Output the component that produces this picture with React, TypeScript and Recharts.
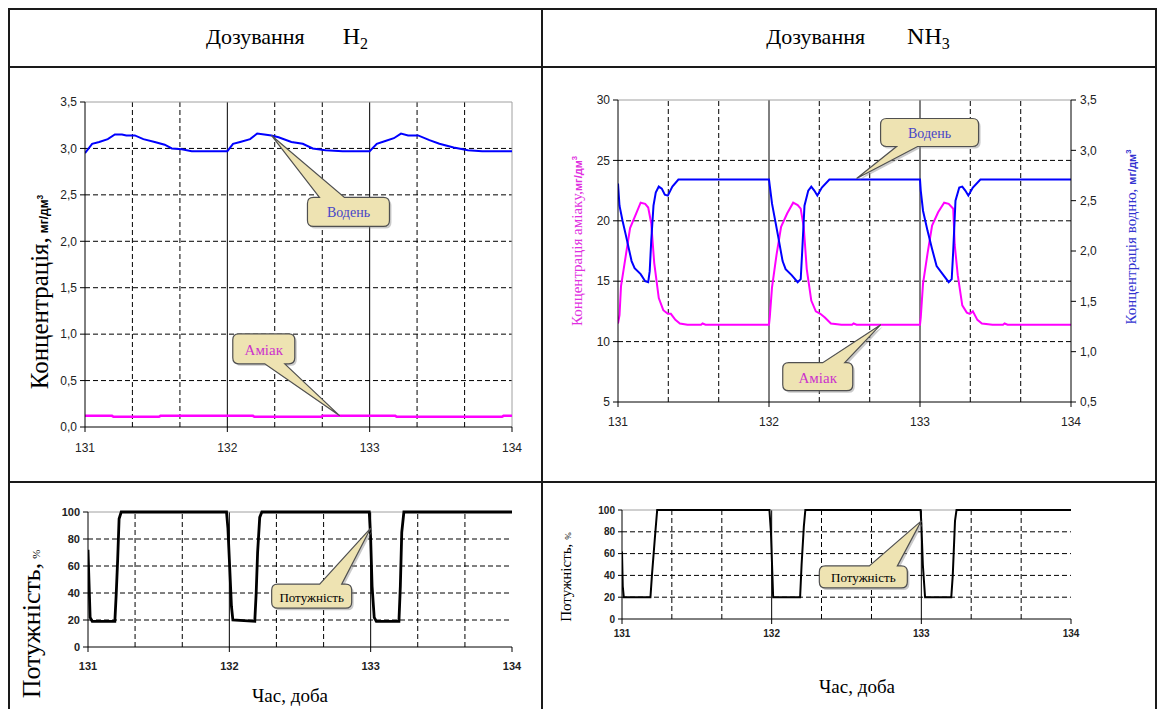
import React from 'react';
import { LineChart, Line, XAxis, YAxis, ReferenceLine, ReferenceDot } from 'recharts';

const SERIF = '"Liberation Serif", "Times New Roman", serif';
const SANS = '"Liberation Sans", Arial, sans-serif';

// shared axis values
const dayTicks = [131, 132, 133, 134];
const dashedDays = [131.333, 131.667, 132.333, 132.667, 133.333, 133.667];
const solidDays = [132, 133];

// --- Дозування H2: concentrations ---
const concTicks = [0, 0.5, 1, 1.5, 2, 2.5, 3, 3.5];
const concGrid = [0.5, 1, 1.5, 2, 2.5, 3];
const h2DoseTime = [
  131.0, 131.05, 131.1, 131.16, 131.21, 131.26, 131.29, 131.35, 131.41, 131.49, 131.56, 131.61, 131.68, 131.75, 131.82, 131.99,
  132.0, 132.04, 132.09, 132.16, 132.21, 132.26, 132.31, 132.36, 132.45, 132.53, 132.6, 132.69, 132.81, 132.98,
  133.0, 133.05, 133.11, 133.17, 133.22, 133.27, 133.34, 133.42, 133.49, 133.59, 133.69, 133.79, 134.0,
];
const h2DoseHydrogen = [
  2.95, 3.05, 3.07, 3.1, 3.15, 3.15, 3.14, 3.14, 3.1, 3.07, 3.04, 3.0, 2.99, 2.97, 2.97, 2.97,
  2.97, 3.05, 3.07, 3.1, 3.16, 3.15, 3.14, 3.12, 3.07, 3.05, 3.0, 2.98, 2.97, 2.97,
  2.97, 3.05, 3.08, 3.11, 3.16, 3.14, 3.14, 3.09, 3.05, 3.01, 2.98, 2.97, 2.97,
];
const h2DoseAmmoniaTime = [131, 131.19, 131.2, 131.52, 131.53, 132.18, 132.19, 132.66, 132.67, 133.18, 133.19, 133.93, 133.94, 134];
const h2DoseAmmonia = [0.12, 0.12, 0.11, 0.11, 0.12, 0.12, 0.11, 0.11, 0.12, 0.12, 0.11, 0.11, 0.12, 0.12];

// --- Дозування NH3: concentrations ---
const ammoniaTicks = [5, 10, 15, 20, 25, 30];
const ammoniaGrid = [10, 15, 20, 25];
const hydrogenTicks = [0.5, 1, 1.5, 2, 2.5, 3, 3.5];
const nh3AmmoniaTime = [
  131.0, 131.01, 131.02, 131.05, 131.08, 131.12, 131.15, 131.18, 131.2, 131.22, 131.24, 131.27, 131.3, 131.33, 131.35, 131.38, 131.41, 131.46, 131.55, 131.56, 131.58, 132.0,
  132.005, 132.02, 132.05, 132.08, 132.12, 132.16, 132.19, 132.21, 132.23, 132.25, 132.28, 132.31, 132.34, 132.37, 132.41, 132.48, 132.55, 132.56, 132.58, 133.0,
  133.005, 133.02, 133.05, 133.08, 133.12, 133.16, 133.19, 133.22, 133.23, 133.25, 133.28, 133.31, 133.33, 133.35, 133.38, 133.41, 133.48, 133.55, 133.56, 133.58, 134.0,
];
const nh3Ammonia = [
  11.5, 12.2, 14.6, 17.0, 19.4, 20.6, 21.5, 21.4, 21.1, 19.8, 16.5, 13.6, 12.6, 12.3, 12.3, 11.8, 11.5, 11.4, 11.4, 11.5, 11.4, 11.4,
  12.0, 14.5, 17.2, 19.5, 20.6, 21.5, 21.3, 21.0, 19.5, 16.0, 13.4, 12.5, 12.3, 12.0, 11.5, 11.4, 11.4, 11.5, 11.4, 11.4,
  12.0, 14.8, 17.3, 19.6, 20.7, 21.5, 21.4, 21.0, 18.0, 15.5, 13.0, 12.4, 12.3, 12.5, 11.8, 11.5, 11.4, 11.4, 11.5, 11.4, 11.4,
];
const nh3HydrogenTime = [
  131.0, 131.01, 131.03, 131.05, 131.09, 131.11, 131.15, 131.18, 131.2, 131.21, 131.22, 131.235, 131.25, 131.27, 131.29, 131.31, 131.33, 131.36, 131.4, 132.0,
  132.005, 132.02, 132.06, 132.09, 132.11, 132.15, 132.19, 132.21, 132.22, 132.235, 132.26, 132.28, 132.3, 132.32, 132.35, 132.4, 133.0,
  133.005, 133.02, 133.05, 133.08, 133.11, 133.15, 133.19, 133.21, 133.22, 133.235, 133.26, 133.28, 133.3, 133.32, 133.35, 133.4, 134.0,
];
const nh3Hydrogen = [
  2.67, 2.45, 2.3, 2.17, 1.9, 1.83, 1.77, 1.7, 1.69, 1.8, 2.1, 2.45, 2.58, 2.64, 2.62, 2.56, 2.55, 2.64, 2.71, 2.71,
  2.65, 2.47, 2.15, 1.9, 1.82, 1.76, 1.69, 1.72, 2.0, 2.45, 2.6, 2.64, 2.6, 2.55, 2.63, 2.71, 2.71,
  2.6, 2.4, 2.2, 2.02, 1.85, 1.77, 1.69, 1.72, 2.0, 2.5, 2.63, 2.64, 2.6, 2.55, 2.63, 2.71, 2.71,
];

// --- Потужність ---
const powerTicks = [0, 20, 40, 60, 80, 100];
const powerGrid = [20, 40, 60, 80];
const h2PowerTime = [
  131.0, 131.005, 131.015, 131.03, 131.19, 131.2, 131.21, 131.22, 131.235,
  131.98, 131.99, 132.0, 132.015, 132.025, 132.18, 132.19, 132.2, 132.215, 132.23,
  132.99, 133.0, 133.01, 133.025, 133.04, 133.2, 133.21, 133.22, 133.235, 134.0,
];
const h2Power = [
  72, 55, 22, 19, 19, 40, 65, 95, 100,
  100, 88, 65, 30, 20, 19, 40, 70, 96, 100,
  100, 80, 45, 22, 19, 19, 45, 85, 100, 100,
];
const nh3PowerTime = [
  131.0, 131.005, 131.012, 131.19, 131.2, 131.22, 131.235,
  131.985, 131.995, 132.01, 132.19, 132.2, 132.215, 132.225,
  132.995, 133.0, 133.01, 133.025, 133.2, 133.21, 133.225, 133.235, 134.0,
];
const nh3Power = [
  62, 30, 20, 20, 40, 75, 100,
  100, 80, 20, 20, 50, 85, 100,
  100, 88, 50, 20, 20, 40, 90, 100, 100,
];

const zip = (ts: number[], vs: number[]) => ts.map((t, i) => ({ t, v: vs[i] }));
const comma = (v: number) => v.toFixed(1).replace('.', ',');

type CalloutCfg = {
  text: string; color: string; fontSize: number;
  dx: number; dy: number; w: number; h: number;
  side: 'top' | 'bottom'; b1: number; b2: number;
};

function calloutPath(tx: number, ty: number, c: CalloutCfg) {
  const x = tx + c.dx, y = ty + c.dy, w = c.w, h = c.h, r = 6;
  const p1 = x + c.b1, p2 = x + c.b2;
  const topEdge = c.side === 'top'
    ? `L${p1},${y} L${tx},${ty} L${p2},${y} L${x + w - r},${y}`
    : `L${x + w - r},${y}`;
  const bottomEdge = c.side === 'bottom'
    ? `L${p2},${y + h} L${tx},${ty} L${p1},${y + h} L${x + r},${y + h}`
    : `L${x + r},${y + h}`;
  return `M${x + r},${y} ${topEdge} Q${x + w},${y} ${x + w},${y + r} L${x + w},${y + h - r} Q${x + w},${y + h} ${x + w - r},${y + h} ${bottomEdge} Q${x},${y + h} ${x},${y + h - r} L${x},${y + r} Q${x},${y} ${x + r},${y} Z`;
}

const callout = (c: CalloutCfg) => (props: any) => {
  const { cx, cy } = props;
  if (cx == null || cy == null) return <g />;
  const d = calloutPath(cx, cy, c);
  return (
    <g>
      <path d={d} transform="translate(2,2)" fill="#8a8a8a" opacity={0.45} />
      <path d={d} fill="#EEE3B2" stroke="#505050" strokeWidth={1.2} />
      <text
        x={cx + c.dx + c.w / 2}
        y={cy + c.dy + c.h / 2 + 1}
        textAnchor="middle"
        dominantBaseline="central"
        fill={c.color}
        style={{ fontFamily: SERIF, fontSize: c.fontSize }}
      >
        {c.text}
      </text>
    </g>
  );
};

const dashed = { stroke: '#000', strokeWidth: 1, strokeDasharray: '5 3' };
const border = { stroke: '#a0a0a0', strokeWidth: 1 };

const xAxisProps = (fontSize: number, bold: boolean, margin: number, height: number) => ({
  type: 'number' as const,
  dataKey: 't',
  domain: [131, 134],
  ticks: dayTicks,
  interval: 0 as const,
  allowDataOverflow: true,
  height,
  tickSize: 5,
  tickMargin: margin,
  axisLine: { stroke: '#000' },
  tickLine: { stroke: '#000' },
  tick: { fill: '#222', fontSize, fontFamily: SANS, fontWeight: bold ? 'bold' : 'normal' },
});

const yTick = (fontSize: number, bold: boolean) => ({
  fill: '#222', fontSize, fontFamily: SANS, fontWeight: bold ? 'bold' : 'normal',
});

const Rotated = ({ x, y, children }: { x: number; y: number; children: React.ReactNode }) => (
  <div
    style={{
      position: 'absolute', left: x, top: y, whiteSpace: 'nowrap',
      transform: 'translate(-50%, -50%) rotate(-90deg)', lineHeight: 1,
    }}
  >
    {children}
  </div>
);

const Plain = ({ x, y, size, children }: { x: number; y: number; size: number; children: React.ReactNode }) => (
  <div
    style={{
      position: 'absolute', left: x, top: y, whiteSpace: 'nowrap',
      transform: 'translate(-50%, -50%)', fontFamily: SERIF, fontSize: size, lineHeight: 1, color: '#000',
    }}
  >
    {children}
  </div>
);

const Unit = ({ size, color }: { size: number; color: string }) => (
  <span style={{ fontFamily: SANS, fontWeight: 'bold', fontSize: size, color }}>
    мг/дм<span style={{ fontSize: size * 0.7, verticalAlign: 'super' }}>3</span>
  </span>
);

const Rule = ({ left, top, width, height }: { left: number; top: number; width: number; height: number }) => (
  <div style={{ position: 'absolute', left, top, width, height, background: '#1a1a1a' }} />
);

export default function App() {
  return (
    <div style={{ position: 'absolute', left: 0, top: 0, width: 1163, height: 709, overflow: 'hidden', background: '#fff' }}>
      {/* table frame */}
      <Rule left={8} top={8} width={1149} height={2} />
      <Rule left={8} top={66} width={1149} height={2} />
      <Rule left={8} top={481} width={1149} height={2} />
      <Rule left={8} top={8} width={2} height={701} />
      <Rule left={541} top={8} width={2} height={701} />
      <Rule left={1155} top={8} width={2} height={701} />

      <Plain x={287} y={38} size={22}>
        <span>Дозування</span>
        <span style={{ marginLeft: 38, fontSize: 24 }}>H</span>
        <sub style={{ fontSize: 16 }}>2</sub>
      </Plain>
      <Plain x={858} y={38} size={22}>
        <span>Дозування</span>
        <span style={{ marginLeft: 42, fontSize: 24 }}>NH</span>
        <sub style={{ fontSize: 16 }}>3</sub>
      </Plain>

      {/* H2 dosing: concentrations */}
      <div style={{ position: 'absolute', left: 0, top: 70 }}>
        <LineChart width={540} height={400} margin={{ top: 32, right: 28, left: 0, bottom: 13 }}>
          <XAxis {...xAxisProps(12, false, 11, 30)} />
          <YAxis
            type="number"
            domain={[0, 3.5]}
            ticks={concTicks}
            interval={0}
            width={85}
            tickSize={5}
            tickMargin={3}
            axisLine={{ stroke: '#000' }}
            tickLine={{ stroke: '#000' }}
            tick={yTick(12, false)}
            tickFormatter={comma}
          />
          {concGrid.map((y) => <ReferenceLine key={`h${y}`} y={y} {...dashed} />)}
          {dashedDays.map((x) => <ReferenceLine key={`v${x}`} x={x} {...dashed} />)}
          {solidDays.map((x) => <ReferenceLine key={`s${x}`} x={x} stroke="#000" strokeWidth={1} />)}
          <ReferenceLine y={3.5} {...border} />
          <ReferenceLine x={134} {...border} />
          <Line data={zip(h2DoseTime, h2DoseHydrogen)} dataKey="v" type="linear" stroke="#0000FF" strokeWidth={2} dot={false} isAnimationActive={false} />
          <Line data={zip(h2DoseAmmoniaTime, h2DoseAmmonia)} dataKey="v" type="linear" stroke="#FF00FF" strokeWidth={2.5} dot={false} isAnimationActive={false} />
          <ReferenceDot x={132.31} y={3.14} r={0} shape={callout({ text: 'Водень', color: '#4646C8', fontSize: 14, dx: 36, dy: 62, w: 82, h: 29, side: 'top', b1: 12, b2: 37 })} />
          <ReferenceDot x={132.79} y={0.12} r={0} shape={callout({ text: 'Аміак', color: '#CC33CC', fontSize: 15, dx: -107, dy: -82, w: 62, h: 30, side: 'bottom', b1: 32, b2: 52 })} />
        </LineChart>
      </div>
      <Rotated x={39} y={292}>
        <span style={{ fontFamily: SERIF, fontSize: 25, color: '#000' }}>Концентрація,</span>{' '}
        <Unit size={12} color="#000" />
      </Rotated>

      {/* NH3 dosing: concentrations */}
      <div style={{ position: 'absolute', left: 543, top: 70 }}>
        <LineChart width={614} height={400} margin={{ top: 30, right: 0, left: 0, bottom: 38 }}>
          <XAxis {...xAxisProps(12, false, 10, 30)} />
          <YAxis
            yAxisId="left"
            type="number"
            domain={[5, 30]}
            ticks={ammoniaTicks}
            interval={0}
            width={75}
            tickSize={5}
            tickMargin={3}
            axisLine={{ stroke: '#000' }}
            tickLine={{ stroke: '#000' }}
            tick={yTick(12, false)}
          />
          <YAxis
            yAxisId="right"
            orientation="right"
            type="number"
            domain={[0.5, 3.5]}
            ticks={hydrogenTicks}
            interval={0}
            width={86}
            tickSize={5}
            tickMargin={4}
            axisLine={{ stroke: '#000' }}
            tickLine={{ stroke: '#000' }}
            tick={yTick(12, false)}
            tickFormatter={comma}
          />
          {ammoniaGrid.map((y) => <ReferenceLine key={`h${y}`} yAxisId="left" y={y} {...dashed} />)}
          {dashedDays.map((x) => <ReferenceLine key={`v${x}`} yAxisId="left" x={x} {...dashed} />)}
          {solidDays.map((x) => <ReferenceLine key={`s${x}`} yAxisId="left" x={x} stroke="#000" strokeWidth={1} />)}
          <ReferenceLine yAxisId="left" y={30} {...border} />
          <Line yAxisId="left" data={zip(nh3AmmoniaTime, nh3Ammonia)} dataKey="v" type="linear" stroke="#FF00FF" strokeWidth={2} dot={false} isAnimationActive={false} />
          <Line yAxisId="right" data={zip(nh3HydrogenTime, nh3Hydrogen)} dataKey="v" type="linear" stroke="#0000FF" strokeWidth={2} dot={false} isAnimationActive={false} />
          <ReferenceDot yAxisId="right" x={132.58} y={2.72} r={0} shape={callout({ text: 'Водень', color: '#4646C8', fontSize: 14, dx: 24, dy: -60, w: 98, h: 28, side: 'bottom', b1: 16, b2: 37 })} />
          <ReferenceDot yAxisId="left" x={132.74} y={11.4} r={0} shape={callout({ text: 'Аміак', color: '#CC33CC', fontSize: 15, dx: -98, dy: 38, w: 70, h: 28, side: 'top', b1: 40, b2: 62 })} />
        </LineChart>
      </div>
      <Rotated x={577} y={241}>
        <span style={{ fontFamily: SERIF, fontSize: 15, color: '#E030E0' }}>Концентрація аміаку,</span>
        <Unit size={11} color="#E030E0" />
      </Rotated>
      <Rotated x={1131} y={237}>
        <span style={{ fontFamily: SERIF, fontSize: 15, color: '#3434D0' }}>Концентрація водню,</span>{' '}
        <Unit size={11} color="#3434D0" />
      </Rotated>

      {/* H2 dosing: power */}
      <div style={{ position: 'absolute', left: 0, top: 485 }}>
        <LineChart width={540} height={224} margin={{ top: 27, right: 28, left: 0, bottom: 37 }}>
          <XAxis {...xAxisProps(11, true, 10, 25)} />
          <YAxis
            type="number"
            domain={[0, 100]}
            ticks={powerTicks}
            interval={0}
            width={88}
            tickSize={5}
            tickMargin={3}
            axisLine={{ stroke: '#000' }}
            tickLine={{ stroke: '#000' }}
            tick={yTick(11, true)}
          />
          {powerGrid.map((y) => <ReferenceLine key={`h${y}`} y={y} {...dashed} />)}
          {dashedDays.map((x) => <ReferenceLine key={`v${x}`} x={x} {...dashed} />)}
          {solidDays.map((x) => <ReferenceLine key={`s${x}`} x={x} stroke="#000" strokeWidth={1} />)}
          <ReferenceLine y={100} {...border} />
          <Line data={zip(h2PowerTime, h2Power)} dataKey="v" type="linear" stroke="#000" strokeWidth={2.8} dot={false} isAnimationActive={false} />
          <ReferenceDot x={133.0} y={88} r={0} shape={callout({ text: 'Потужність', color: '#000', fontSize: 13, dx: -99, dy: 56, w: 80, h: 24, side: 'top', b1: 48, b2: 70 })} />
        </LineChart>
      </div>
      <Rotated x={32} y={624}>
        <span style={{ fontFamily: SERIF, fontSize: 26, color: '#000' }}>Потужність,</span>{' '}
        <span style={{ fontFamily: SERIF, fontSize: 11, color: '#000' }}>%</span>
      </Rotated>
      <Plain x={290} y={695} size={19}>Час, доба</Plain>

      {/* NH3 dosing: power */}
      <div style={{ position: 'absolute', left: 543, top: 485 }}>
        <LineChart width={614} height={224} margin={{ top: 25, right: 86, left: 0, bottom: 70 }}>
          <XAxis {...xAxisProps(10, true, 6, 20)} />
          <YAxis
            type="number"
            domain={[0, 100]}
            ticks={powerTicks}
            interval={0}
            width={79}
            tickSize={4}
            tickMargin={3}
            axisLine={{ stroke: '#000' }}
            tickLine={{ stroke: '#000' }}
            tick={yTick(10, true)}
          />
          {powerGrid.map((y) => <ReferenceLine key={`h${y}`} y={y} {...dashed} />)}
          {dashedDays.map((x) => <ReferenceLine key={`v${x}`} x={x} {...dashed} />)}
          {solidDays.map((x) => <ReferenceLine key={`s${x}`} x={x} stroke="#000" strokeWidth={1} />)}
          <ReferenceLine y={100} {...border} />
          <Line data={zip(nh3PowerTime, nh3Power)} dataKey="v" type="linear" stroke="#000" strokeWidth={2} dot={false} isAnimationActive={false} />
          <ReferenceDot x={133.0} y={90} r={0} shape={callout({ text: 'Потужність', color: '#000', fontSize: 13, dx: -102, dy: 45, w: 88, h: 22, side: 'top', b1: 50, b2: 78 })} />
        </LineChart>
      </div>
      <Rotated x={566} y={577}>
        <span style={{ fontFamily: SERIF, fontSize: 15, color: '#000' }}>Потужність,</span>{' '}
        <span style={{ fontFamily: SERIF, fontSize: 9, color: '#000' }}>%</span>
      </Rotated>
      <Plain x={857} y={686} size={19}>Час, доба</Plain>
    </div>
  );
}
